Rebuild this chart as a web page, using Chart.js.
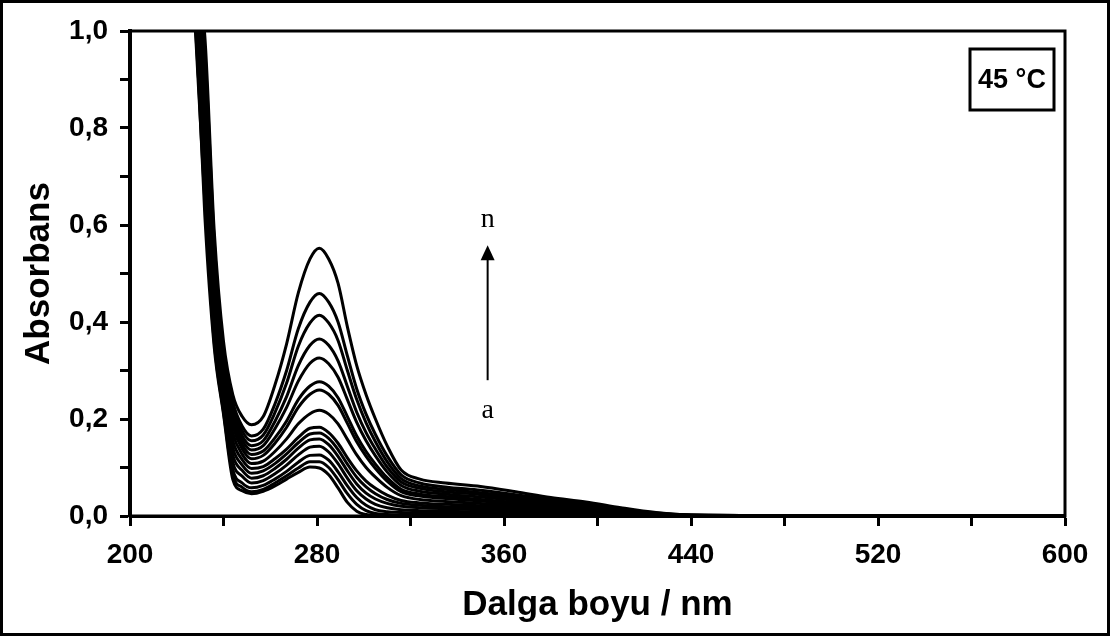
<!DOCTYPE html>
<html>
<head>
<meta charset="utf-8">
<script src="https://cdn.jsdelivr.net/npm/chart.js@4/dist/chart.umd.min.js"></script>
<style>
  body { margin: 0; background: #fff; }
  #wrap { width: 1110px; height: 636px; }
</style>
</head>
<body>
<div id="wrap"><canvas id="uvChart" width="1110" height="636"></canvas></div>
<script>
// wavelength grid (nm)
const wavelengths = [224, 228, 232, 236, 240, 244, 248, 252, 257, 262, 267, 272, 277, 281, 285, 289, 293, 297, 301, 305, 310, 316, 324, 335, 350, 365, 380, 395, 410, 425, 440, 480, 540, 600];

// absorbance of each scan, last (n) first
const spec01 = [1.45, 1.12, 0.99, 0.59, 0.36, 0.25, 0.205, 0.188, 0.205, 0.27, 0.355, 0.46, 0.53, 0.552, 0.53, 0.48, 0.39, 0.31, 0.25, 0.20, 0.145, 0.095, 0.076, 0.068, 0.061, 0.050, 0.038, 0.029, 0.017, 0.007, 0.002, 0.001, 0.001, 0];
const spec02 = [1.44, 1.11, 0.96, 0.57, 0.34, 0.235, 0.185, 0.165, 0.179, 0.231, 0.300, 0.386, 0.441, 0.459, 0.441, 0.400, 0.330, 0.262, 0.210, 0.168, 0.124, 0.085, 0.068, 0.060, 0.053, 0.044, 0.034, 0.025, 0.015, 0.006, 0.002, 0.001, 0.001, 0];
const spec03 = [1.43, 1.10, 0.94, 0.55, 0.33, 0.225, 0.175, 0.155, 0.167, 0.213, 0.274, 0.350, 0.398, 0.414, 0.398, 0.362, 0.300, 0.240, 0.192, 0.153, 0.112, 0.077, 0.062, 0.055, 0.048, 0.040, 0.031, 0.023, 0.013, 0.005, 0.002, 0.001, 0, 0];
const spec04 = [1.42, 1.09, 0.92, 0.53, 0.32, 0.215, 0.165, 0.145, 0.155, 0.195, 0.246, 0.310, 0.352, 0.365, 0.352, 0.320, 0.267, 0.214, 0.172, 0.138, 0.101, 0.070, 0.057, 0.050, 0.044, 0.036, 0.028, 0.020, 0.011, 0.004, 0.001, 0.001, 0, 0];
const spec05 = [1.41, 1.08, 0.90, 0.51, 0.30, 0.205, 0.156, 0.136, 0.145, 0.180, 0.224, 0.278, 0.315, 0.326, 0.314, 0.286, 0.240, 0.193, 0.155, 0.124, 0.091, 0.063, 0.051, 0.045, 0.039, 0.032, 0.025, 0.018, 0.010, 0.004, 0.001, 0, 0, 0];
const spec06 = [1.40, 1.07, 0.87, 0.49, 0.29, 0.195, 0.147, 0.127, 0.134, 0.161, 0.196, 0.240, 0.268, 0.277, 0.268, 0.244, 0.205, 0.165, 0.133, 0.107, 0.079, 0.055, 0.045, 0.040, 0.034, 0.028, 0.022, 0.015, 0.008, 0.003, 0.001, 0, 0, 0];
const spec07 = [1.39, 1.06, 0.85, 0.47, 0.28, 0.185, 0.138, 0.118, 0.125, 0.150, 0.183, 0.224, 0.251, 0.260, 0.251, 0.228, 0.191, 0.153, 0.123, 0.098, 0.072, 0.050, 0.041, 0.036, 0.031, 0.025, 0.019, 0.013, 0.007, 0.002, 0.001, 0, 0, 0];
const spec08 = [1.38, 1.05, 0.82, 0.45, 0.27, 0.170, 0.127, 0.108, 0.113, 0.133, 0.159, 0.190, 0.211, 0.218, 0.210, 0.190, 0.158, 0.126, 0.100, 0.080, 0.059, 0.042, 0.034, 0.030, 0.026, 0.021, 0.016, 0.011, 0.006, 0.002, 0.001, 0, 0, 0];
const spec09 = [1.38, 1.04, 0.80, 0.43, 0.26, 0.155, 0.116, 0.098, 0.102, 0.118, 0.138, 0.162, 0.181, 0.183, 0.172, 0.150, 0.120, 0.093, 0.072, 0.057, 0.043, 0.032, 0.027, 0.024, 0.021, 0.017, 0.013, 0.009, 0.005, 0.002, 0.001, 0, 0, 0];
const spec10 = [1.37, 1.03, 0.77, 0.42, 0.25, 0.140, 0.105, 0.088, 0.093, 0.108, 0.128, 0.151, 0.169, 0.171, 0.160, 0.137, 0.107, 0.080, 0.060, 0.046, 0.034, 0.026, 0.022, 0.019, 0.017, 0.014, 0.011, 0.007, 0.004, 0.001, 0, 0, 0, 0];
const spec11 = [1.37, 1.02, 0.74, 0.40, 0.24, 0.125, 0.094, 0.078, 0.083, 0.098, 0.117, 0.140, 0.157, 0.159, 0.147, 0.123, 0.093, 0.066, 0.047, 0.035, 0.026, 0.020, 0.017, 0.015, 0.013, 0.010, 0.008, 0.005, 0.003, 0.001, 0, 0, 0, 0];
const spec12 = [1.36, 1.02, 0.71, 0.39, 0.23, 0.110, 0.082, 0.068, 0.073, 0.087, 0.105, 0.126, 0.142, 0.144, 0.132, 0.108, 0.078, 0.052, 0.035, 0.024, 0.017, 0.013, 0.011, 0.010, 0.008, 0.006, 0.005, 0.003, 0.002, 0.001, 0, 0, 0, 0];
const spec13 = [1.36, 1.01, 0.68, 0.37, 0.22, 0.095, 0.068, 0.058, 0.063, 0.076, 0.092, 0.111, 0.125, 0.126, 0.115, 0.091, 0.062, 0.038, 0.022, 0.013, 0.009, 0.007, 0.006, 0.005, 0.005, 0.004, 0.003, 0.002, 0.001, 0, 0, 0, 0, 0];
const spec14 = [1.35, 1.00, 0.65, 0.36, 0.215, 0.085, 0.059, 0.050, 0.055, 0.068, 0.083, 0.099, 0.112, 0.112, 0.100, 0.075, 0.046, 0.024, 0.011, 0.005, 0.003, 0.002, 0.002, 0.002, 0.002, 0.001, 0.001, 0, 0, 0, 0, 0, 0, 0];
const spec15 = [1.35, 1.04, 0.62, 0.35, 0.21, 0.075, 0.052, 0.046, 0.051, 0.062, 0.076, 0.090, 0.101, 0.099, 0.085, 0.058, 0.028, 0.010, 0.003, 0.001, 0, 0, 0, 0, 0, 0, 0, 0, 0, 0, 0, 0, 0, 0];

const spectra = [spec01, spec02, spec03, spec04, spec05, spec06, spec07, spec08, spec09, spec10, spec11, spec12, spec13, spec14, spec15];

const xTitle = 'Dalga boyu / nm';
const yTitle = 'Absorbans';
const tempLabel = '45 °C';
const arrowFrom = 'a';
const arrowTo = 'n';

let sans = "'Liberation Sans', Arial, sans-serif";
let serif = "'Liberation Serif', 'Times New Roman', serif";

let datasets = spectra.map(function (s, i) {
    return {
        label: 'scan ' + (i + 1),
        data: s.map(function (v, j) { return { x: wavelengths[j], y: v }; }),
        borderColor: '#000',
        borderWidth: 3,
        pointRadius: 0,
        cubicInterpolationMode: 'monotone',
        fill: false
    };
});

// frame round the plot, the outer border, the temperature box and the a->n arrow
let extras = {
    id: 'extras',
    afterDraw: function (chart) {
        let ctx = chart.ctx;
        let a = chart.chartArea;
        let xs = chart.scales.x;
        let ys = chart.scales.y;
        ctx.save();
        ctx.strokeStyle = '#000';
        ctx.lineWidth = 3;
        ctx.strokeRect(a.left, a.top, a.right - a.left, a.bottom - a.top);
        ctx.strokeRect(1.5, 1.5, chart.width - 3, chart.height - 3);

        // 45 °C box
        let bw = 84, bh = 61;
        let bx = a.right - 11 - bw, by = a.top + 18;
        ctx.strokeRect(bx, by, bw, bh);
        ctx.fillStyle = '#000';
        ctx.font = 'bold 27px ' + sans;
        ctx.textAlign = 'center';
        ctx.textBaseline = 'middle';
        ctx.fillText(tempLabel, bx + bw / 2, by + bh / 2 + 1);

        // arrow
        let ax = xs.getPixelForValue(353);
        let y0 = ys.getPixelForValue(0.28);
        let y1 = ys.getPixelForValue(0.558);
        ctx.lineWidth = 2;
        ctx.beginPath();
        ctx.moveTo(ax, y0);
        ctx.lineTo(ax, y1 + 12);
        ctx.stroke();
        ctx.beginPath();
        ctx.moveTo(ax, y1);
        ctx.lineTo(ax - 7, y1 + 15);
        ctx.lineTo(ax + 7, y1 + 15);
        ctx.closePath();
        ctx.fill();
        ctx.font = '28px ' + serif;
        ctx.fillText(arrowTo, ax, ys.getPixelForValue(0.612));
        ctx.fillText(arrowFrom, ax, ys.getPixelForValue(0.218));
        ctx.restore();
    }
};

new Chart(document.getElementById('uvChart'), {
    type: 'line',
    data: { datasets: datasets },
    options: {
        responsive: false,
        animation: false,
        layout: { padding: { left: 0, top: 31, right: 45, bottom: 0 } },
        plugins: { legend: { display: false }, tooltip: { enabled: false } },
        scales: {
            x: {
                type: 'linear',
                min: 200,
                max: 600,
                afterFit: function (scale) { scale.height = 120; },
                border: { color: '#000', width: 3 },
                grid: { drawOnChartArea: false, drawTicks: true, tickLength: 10, tickWidth: 3, tickColor: '#000' },
                ticks: {
                    stepSize: 40,
                    autoSkip: false,
                    maxRotation: 0,
                    padding: 12,
                    color: '#000',
                    font: { family: sans, size: 28, weight: 'bold' },
                    callback: function (v) { return (v - 200) % 80 === 0 ? String(v) : ''; }
                },
                title: {
                    display: true,
                    text: xTitle,
                    color: '#000',
                    font: { family: sans, size: 35, weight: 'bold' },
                    padding: { top: 0, bottom: 10 }
                }
            },
            y: {
                min: 0,
                max: 1,
                afterFit: function (scale) { scale.width = 130; },
                border: { color: '#000', width: 4 },
                grid: { drawOnChartArea: false, drawTicks: true, tickLength: 10, tickWidth: 3, tickColor: '#000' },
                ticks: {
                    stepSize: 0.1,
                    autoSkip: false,
                    padding: 12,
                    color: '#000',
                    font: { family: sans, size: 28, weight: 'bold' },
                    callback: function (v) {
                        let t = Math.round(v * 10);
                        return t % 2 === 0 ? (t / 10).toFixed(1).replace('.', ',') : '';
                    }
                },
                title: {
                    display: true,
                    text: yTitle,
                    color: '#000',
                    font: { family: sans, size: 35, weight: 'bold' },
                    padding: { top: 18, bottom: 0 }
                }
            }
        }
    },
    plugins: [extras]
});
</script>
</body>
</html>
